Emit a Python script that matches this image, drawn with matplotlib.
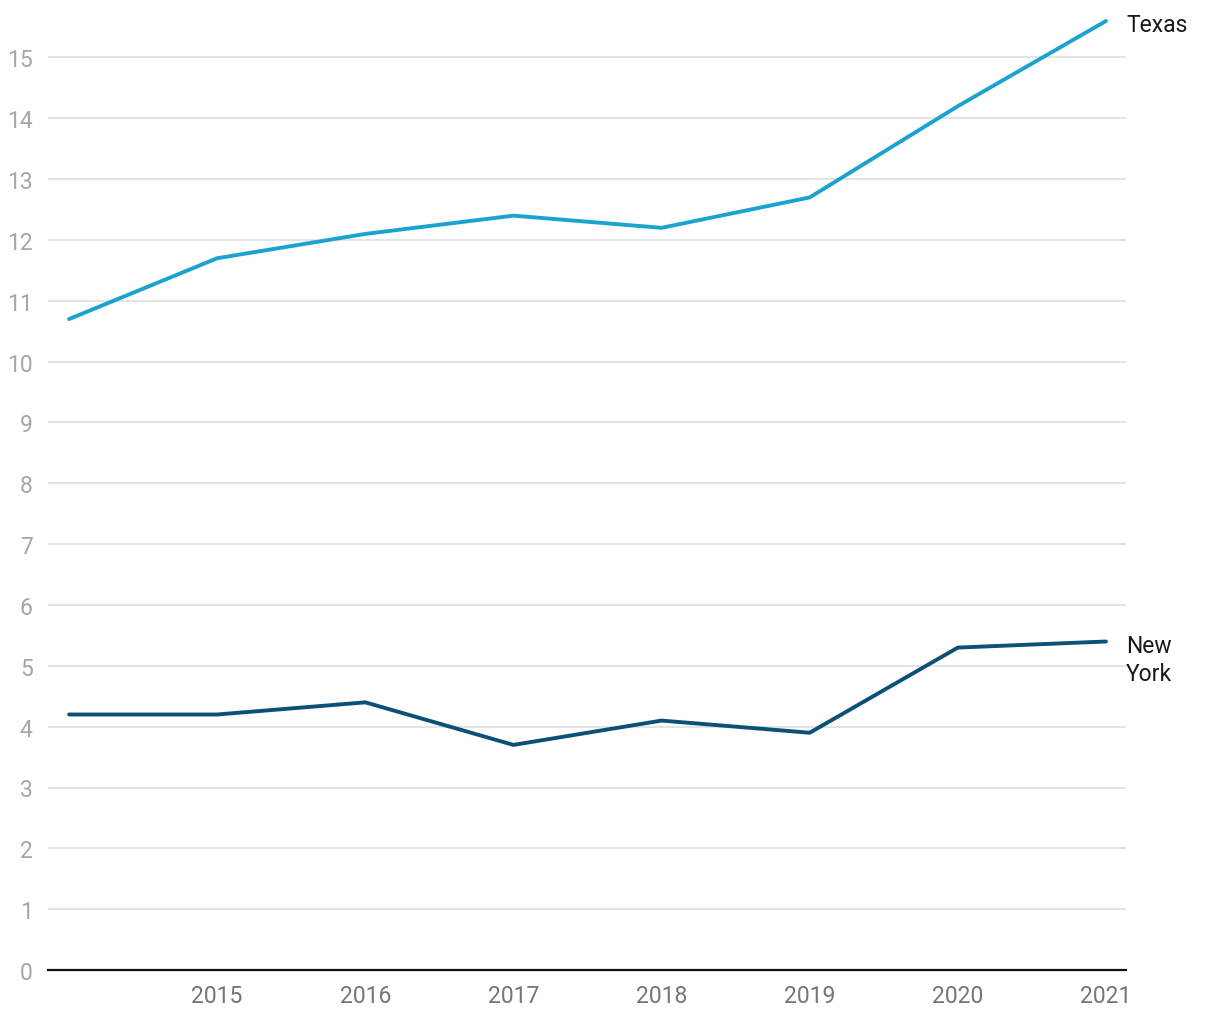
import numpy as np
import matplotlib.pyplot as plt

plt.rcParams['font.family'] = ['Roboto', 'DejaVu Sans']

years = [2014, 2015, 2016, 2017, 2018, 2019, 2020, 2021]
texas = [10.7, 11.7, 12.1, 12.4, 12.2, 12.7, 14.2, 15.6]
new_york = [4.2, 4.2, 4.4, 3.7, 4.1, 3.9, 5.3, 5.4]
yticks = list(range(0, 16))
xticks = [2015, 2016, 2017, 2018, 2019, 2020, 2021]

texas_color = '#1ba3cf'
ny_color = '#0b5077'

fig = plt.figure(figsize=(12.2, 10.2), dpi=100)
ax = fig.add_axes([48/1220, 49/1020, (1126-48)/1220, 949/1020])

for y in yticks[1:]:
    ax.axhline(y, color='#e2e2e2', lw=1.3, zorder=0)

ax.plot(years, texas, color=texas_color, lw=2.8, solid_capstyle='round', clip_on=False)
ax.plot(years, new_york, color=ny_color, lw=2.8, solid_capstyle='round', clip_on=False)

ax.set_xlim(2014 - 21/148, 2021 + 20/148)
ax.set_ylim(0, 15.6)

for s in ['top', 'right', 'left']:
    ax.spines[s].set_visible(False)
ax.spines['bottom'].set_color('#111111')
ax.spines['bottom'].set_linewidth(1.6)

ax.set_yticks(yticks)
ax.set_xticks(xticks)
ax.tick_params(axis='y', length=0, pad=11, labelsize=16.5, labelcolor='#a6a6a6')
ax.tick_params(axis='x', length=0, pad=10, labelsize=16.5, labelcolor='#757575')

ax.annotate('Texas', xy=(years[-1], texas[-1]), xytext=(20, -4), textcoords='offset pixels',
            va='center', ha='left', fontsize=16.5, color='#1a1a1a', annotation_clip=False)
ax.annotate('New\nYork', xy=(years[-1], new_york[-1]), xytext=(20, -18), textcoords='offset pixels',
            va='center', ha='left', fontsize=16.5, color='#1a1a1a', linespacing=1.25,
            annotation_clip=False)

fig.savefig('out.png', dpi=100)
